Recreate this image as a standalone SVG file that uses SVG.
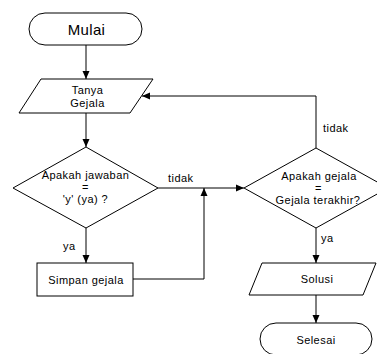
<svg xmlns="http://www.w3.org/2000/svg" width="377" height="354" viewBox="0 0 377 354">
<style>
.s{fill:#fff;stroke:#000;stroke-width:1}
.c{fill:none;stroke:#000;stroke-width:1}
text{font-family:"Liberation Sans",Arial,sans-serif;font-size:11px;letter-spacing:0.45px;fill:#000}
.m{text-anchor:middle}
.big{font-size:15px;letter-spacing:0.3px}
</style>
<defs>
<marker id="ah" markerUnits="userSpaceOnUse" markerWidth="8" markerHeight="8" viewBox="0 0 8 8" refX="8" refY="4" orient="auto">
<path d="M0,0.5 L8,4 L0,7.5 Z" fill="#000"/>
</marker>
</defs>
<rect width="377" height="354" fill="#fff"/>
<g id="connectors">
<path class="c" d="M86,45 V79" marker-end="url(#ah)"/>
<path class="c" d="M86,113 V147" marker-end="url(#ah)"/>
<path class="c" d="M86,228 V263" marker-end="url(#ah)"/>
<path class="c" d="M158,188 H244" marker-end="url(#ah)"/>
<path class="c" d="M133,279 H204 V188" marker-end="url(#ah)"/>
<path class="c" d="M316,148 V96 H142" marker-end="url(#ah)"/>
<path class="c" d="M316,228 V263" marker-end="url(#ah)"/>
<path class="c" d="M316,295 V323" marker-end="url(#ah)"/>
<text x="63" y="250">ya</text>
<text x="168" y="182">tidak</text>
<text x="323" y="132">tidak</text>
<text x="321" y="242">ya</text>
</g>
<g id="mulai">
<rect class="s" x="29" y="13" width="113" height="32" rx="16" ry="16"/>
<text class="m big" x="86.5" y="34.5">Mulai</text>
</g>
<g id="tanya">
<polygon class="s" points="41,79 153,79 130,113 19,113"/>
<text class="m" x="87.5" y="94">Tanya</text>
<text class="m" x="87.5" y="106.5">Gejala</text>
</g>
<g id="cek-jawaban">
<polygon class="s" points="86,147 158,188 86,228 13,188"/>
<text class="m" x="85.5" y="179">Apakah jawaban</text>
<text class="m" x="85.5" y="191">=</text>
<text class="m" x="85.5" y="203">'y' (ya) ?</text>
</g>
<g id="simpan">
<rect class="s" x="37" y="263" width="96" height="33"/>
<text class="m" x="86" y="283.5">Simpan gejala</text>
</g>
<g id="cek-gejala">
<polygon class="s" points="316,148 388,188 316,228 244,188"/>
<text class="m" x="319" y="179.5">Apakah gejala</text>
<text class="m" x="318.5" y="191.5">=</text>
<text class="m" x="318" y="203.5">Gejala terakhir?</text>
</g>
<g id="solusi">
<polygon class="s" points="262,263 376,263 363,295 249,295"/>
<text class="m" x="317" y="283">Solusi</text>
</g>
<g id="selesai">
<rect class="s" x="260" y="323" width="112" height="32" rx="16" ry="16"/>
<text class="m" x="316" y="344">Selesai</text>
</g>
</svg>
